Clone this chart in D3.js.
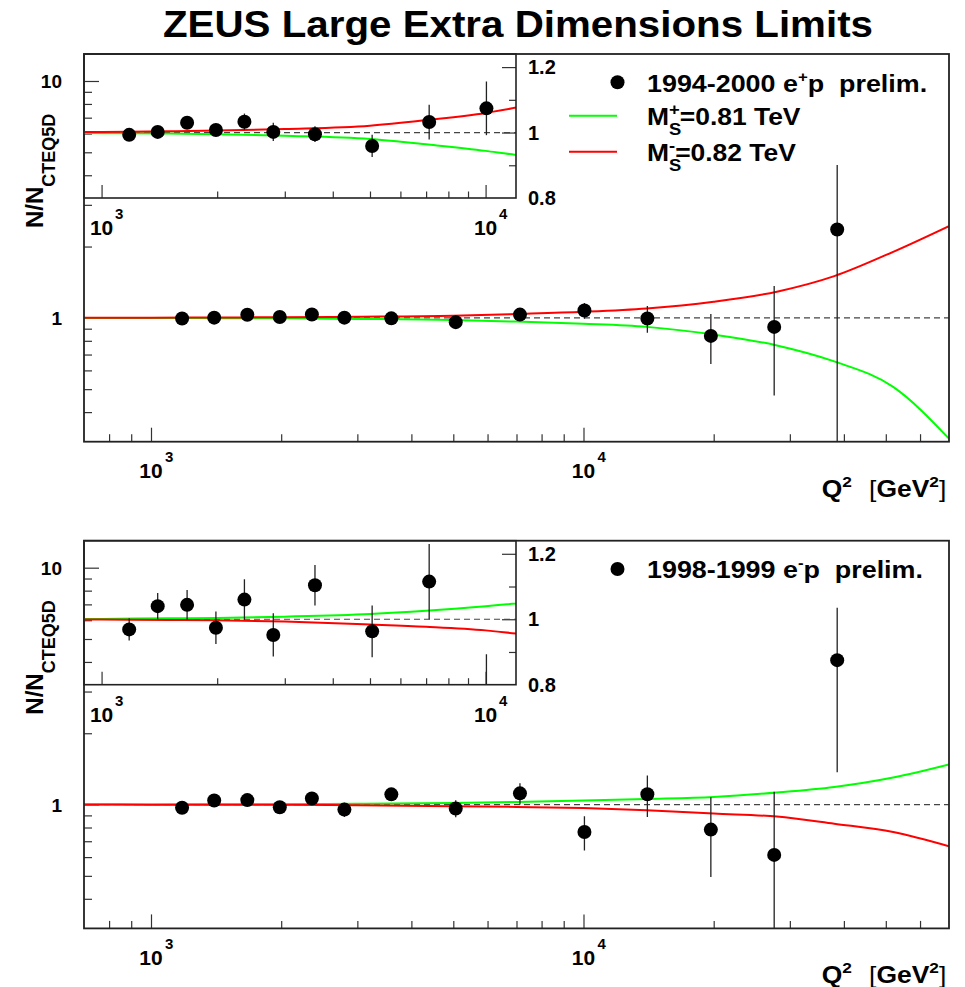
<!DOCTYPE html>
<html>
<head>
<meta charset="utf-8">
<script src="https://cdn.jsdelivr.net/npm/d3@7"></script>
<style>
  body { margin: 0; background: #fff; }
  svg { display: block; font-family: 'Liberation Sans', Arial, Helvetica, sans-serif; font-weight: bold; }
  text { white-space: pre; }
</style>
</head>
<body>
<script>
// Q^2 bin centres (GeV^2)
const q2Bins = [1180, 1400, 1670, 1985, 2355, 2800, 3595, 5065, 7130, 10050, 14050, 19700, 27600, 38600]

// 1994-2000 e+p : N / N_CTEQ5D
const ratioEplus = [0.993, 1.002, 1.030, 1.008, 1.033, 1.002, 0.995, 0.959, 1.032, 1.074, 0.994, 0.839, 0.916, 2.36]
const errEplus = [0.010, 0.011, 0.012, 0.013, 0.025, 0.028, 0.024, 0.034, 0.053, 0.082, 0.128, 0.20, 0.446, 2.06]

// 1998-1999 e-p : N / N_CTEQ5D
const ratioEminus = [0.969, 1.040, 1.044, 0.974, 1.060, 0.952, 1.104, 0.963, 1.115, 0.766, 1.105, 0.784, 0.613, 4.07]
const errEminus = [0.034, 0.040, 0.045, 0.050, 0.062, 0.066, 0.062, 0.079, 0.115, 0.127, 0.22, 0.29, 0.52, 2.7]

// theory curves
const curveQ2 = [700, 1000, 1500, 2000, 3000, 5000, 7000, 10000, 14000, 20000, 28000, 38000, 52000, 70000]
const eplusMplus = [0.999, 0.998, 0.997, 0.995, 0.990, 0.980, 0.964, 0.944, 0.916, 0.850, 0.765, 0.655, 0.511, 0.309]
const eplusMminus = [1.0, 1.002, 1.004, 1.006, 1.011, 1.021, 1.038, 1.060, 1.095, 1.170, 1.290, 1.500, 1.900, 2.44]
const eminusMplus = [1.0, 1.001, 1.003, 1.004, 1.008, 1.016, 1.026, 1.040, 1.056, 1.077, 1.124, 1.186, 1.300, 1.476]
const eminusMminus = [1.0, 0.999, 0.998, 0.997, 0.993, 0.984, 0.977, 0.966, 0.946, 0.916, 0.890, 0.830, 0.766, 0.667]

const title = 'ZEUS Large Extra Dimensions Limits'
const dataLabels = [['1994-2000 e', '+', 'p  prelim.'], ['1998-1999 e', '-', 'p  prelim.']]
const modelLabels = [['+', '=0.81 TeV'], ['-', '=0.82 TeV']]

const GREEN = '#00ff00'
const RED = '#ff0000'
const INK = '#222'

const svg = d3.select('body').append('svg').attr('width', 965).attr('height', 987)

// text with simple super/subscripts
function rich(g, x, y, size, pieces, opts = {}) {
  const t = g.append('text')
    .attr('transform', `translate(${x},${y}) scale(${opts.sx || 1},1)` + (opts.rotate ? ` rotate(${opts.rotate})` : ''))
    .attr('font-size', size)
    .attr('text-anchor', opts.anchor || 'start')
    .attr('fill', '#000')
  let cur = 0
  pieces.forEach(p => {
    if (typeof p === 'string') p = {t: p}
    const off = p.dy || 0
    const s = t.append('tspan').text(p.t).attr('dy', off - cur)
    if (p.size) s.attr('font-size', p.size)
    if (p.dx) s.attr('dx', p.dx)
    if (p.weight) s.attr('font-weight', p.weight)
    cur = off
  })
  return t
}

svg.append('text')
  .attr('x', 518).attr('y', 37)
  .attr('text-anchor', 'middle')
  .attr('font-size', 37)
  .attr('textLength', 710).attr('lengthAdjust', 'spacingAndGlyphs')
  .text(title)

function drawPanel(top, values, errors, greenCurve, redCurve, idx) {
  const left = 84, right = 949, height = 387.7
  const insetRight = 516, insetHeight = 144
  const bottom = top + height, insetBottom = top + insetHeight

  const x = d3.scaleLog().domain([700, 70000]).range([left, right])
  const y = d3.scaleLog().domain([0.3, 13]).range([bottom, top])
  const xi = d3.scaleLog().domain([900, 12000]).range([left, insetRight])
  const yi = d3.scaleLinear().domain([0.8, 1.24]).range([insetBottom, top])

  const g = svg.append('g')
  const clipId = 'clip-main-' + idx, clipInset = 'clip-inset-' + idx
  const defs = svg.append('defs')
  defs.append('clipPath').attr('id', clipId).append('rect')
    .attr('x', left).attr('y', top).attr('width', right - left).attr('height', height)
  defs.append('clipPath').attr('id', clipInset).append('rect')
    .attr('x', left).attr('y', top).attr('width', insetRight - left).attr('height', insetHeight)

  const isDecade = v => Math.abs(Math.log10(v) - Math.round(Math.log10(v))) < 1e-6

  // ---- main axes ----
  const xt = x.ticks().filter(v => v > 700 && v < 70000)
  const yt = y.ticks().filter(v => v > 0.3 && v < 13)
  const tickStyle = a => {
    a.select('.domain').remove()
    a.selectAll('line').attr('stroke', '#333').attr('stroke-width', 1.2)
  }
  g.append('g').attr('transform', `translate(0,${bottom})`)
    .call(d3.axisBottom(x).tickValues(xt.filter(isDecade)).tickSize(-14).tickFormat(''))
    .call(tickStyle)
  g.append('g').attr('transform', `translate(0,${bottom})`)
    .call(d3.axisBottom(x).tickValues(xt.filter(v => !isDecade(v))).tickSize(-7.5).tickFormat(''))
    .call(tickStyle)
  g.append('g').attr('transform', `translate(${left},0)`)
    .call(d3.axisLeft(y).tickValues(yt.filter(isDecade)).tickSize(-15).tickFormat(''))
    .call(tickStyle)
  g.append('g').attr('transform', `translate(${left},0)`)
    .call(d3.axisLeft(y).tickValues(yt.filter(v => !isDecade(v))).tickSize(-8).tickFormat(''))
    .call(tickStyle)

  yt.filter(isDecade).forEach(v => {
    g.append('text').attr('x', 62).attr('y', y(v) + 7).attr('text-anchor', 'end')
      .attr('font-size', 19).text(d3.format('d')(v))
  })
  xt.filter(isDecade).forEach(v => {
    g.append('text').attr('x', x(v)).attr('y', bottom + 36.5).attr('text-anchor', 'middle')
      .attr('font-size', 21).text('10')
    g.append('text').attr('x', x(v) + 14).attr('y', bottom + 20.5)
      .attr('font-size', 15).text(Math.round(Math.log10(v)))
  })

  // axis titles
  rich(g, 821.7, bottom + 55, 23, ['Q', {t: '2', dy: -10, size: 15}, {t: '[', dx: 15, weight: 'normal'}, 'GeV', {t: '2', dy: -10, size: 15}, {t: ']', weight: 'normal'}], {sx: 1.15})
  rich(g, 43, top + 174, 24, ['N/N', {t: 'CTEQ5D', dy: 12, size: 18}], {rotate: -90})

  // ---- main content ----
  const mc = g.append('g').attr('clip-path', `url(#${clipId})`)
  mc.append('line').attr('x1', left).attr('x2', right).attr('y1', y(1)).attr('y2', y(1))
    .attr('stroke', '#444').attr('stroke-width', 1.2).attr('stroke-dasharray', '6,4')
  const line = d3.line().x(d => x(d[0])).y(d => y(d[1])).curve(d3.curveMonotoneX)
  mc.append('path').datum(d3.zip(curveQ2, greenCurve)).attr('d', line)
    .attr('fill', 'none').attr('stroke', GREEN).attr('stroke-width', 2)
  mc.append('path').datum(d3.zip(curveQ2, redCurve)).attr('d', line)
    .attr('fill', 'none').attr('stroke', RED).attr('stroke-width', 2)
  const pts = d3.zip(q2Bins, values, errors)
  mc.selectAll('.err').data(pts).enter().append('line')
    .attr('x1', d => x(d[0])).attr('x2', d => x(d[0]))
    .attr('y1', d => y(Math.max(d[1] - d[2], 0.01))).attr('y2', d => y(d[1] + d[2]))
    .attr('stroke', '#222').attr('stroke-width', 1.3)
  mc.selectAll('.dot').data(pts).enter().append('circle')
    .attr('cx', d => x(d[0])).attr('cy', d => y(d[1])).attr('r', 7).attr('fill', '#000')

  g.append('rect').attr('x', left).attr('y', top).attr('width', right - left).attr('height', height)
    .attr('fill', 'none').attr('stroke', INK).attr('stroke-width', 1.8)

  // ---- inset ----
  const ig = g.append('g')
  const xit = xi.ticks().filter(v => v > 900 && v < 10500)
  ig.append('g').attr('transform', `translate(0,${insetBottom})`)
    .call(d3.axisBottom(xi).tickValues(xit.filter(isDecade)).tickSize(-13).tickFormat(''))
    .call(tickStyle)
  ig.append('g').attr('transform', `translate(0,${insetBottom})`)
    .call(d3.axisBottom(xi).tickValues(xit.filter(v => !isDecade(v))).tickSize(-6.5).tickFormat(''))
    .call(tickStyle)
  const yit = yi.ticks(5).filter(v => v > 0.8 && v < 1.24)
  const yMajor = v => Math.round(v * 10) % 2 === 0
  ig.append('g').attr('transform', `translate(${insetRight},0)`)
    .call(d3.axisRight(yi).tickValues(yit.filter(yMajor)).tickSize(-14).tickFormat(''))
    .call(tickStyle)
  ig.append('g').attr('transform', `translate(${insetRight},0)`)
    .call(d3.axisRight(yi).tickValues(yit.filter(v => !yMajor(v))).tickSize(-7).tickFormat(''))
    .call(tickStyle)
  yi.ticks(5).filter(yMajor).forEach(v => {
    ig.append('text').attr('x', 528).attr('y', yi(v) + 7).attr('font-size', 20)
      .text(d3.format('~g')(v))
  })
  xit.filter(isDecade).forEach(v => {
    ig.append('text').attr('x', xi(v)).attr('y', insetBottom + 37).attr('text-anchor', 'middle')
      .attr('font-size', 21).text('10')
    ig.append('text').attr('x', xi(v) + 13.5).attr('y', insetBottom + 21)
      .attr('font-size', 15).text(Math.round(Math.log10(v)))
  })

  const ic = ig.append('g').attr('clip-path', `url(#${clipInset})`)
  ic.append('line').attr('x1', left).attr('x2', insetRight).attr('y1', yi(1)).attr('y2', yi(1))
    .attr('stroke', '#444').attr('stroke-width', 1.2).attr('stroke-dasharray', '6,4')
  const iline = d3.line().x(d => xi(d[0])).y(d => yi(d[1])).curve(d3.curveMonotoneX)
  ic.append('path').datum(d3.zip(curveQ2, greenCurve)).attr('d', iline)
    .attr('fill', 'none').attr('stroke', GREEN).attr('stroke-width', 2)
  ic.append('path').datum(d3.zip(curveQ2, redCurve)).attr('d', iline)
    .attr('fill', 'none').attr('stroke', RED).attr('stroke-width', 2)
  const ipts = pts.filter(d => d[0] < 12000)
  ic.selectAll('.err').data(ipts).enter().append('line')
    .attr('x1', d => xi(d[0])).attr('x2', d => xi(d[0]))
    .attr('y1', d => yi(d[1] - d[2])).attr('y2', d => yi(d[1] + d[2]))
    .attr('stroke', '#222').attr('stroke-width', 1.3)
  ic.selectAll('.dot').data(ipts).enter().append('circle')
    .attr('cx', d => xi(d[0])).attr('cy', d => yi(d[1])).attr('r', 7).attr('fill', '#000')

  ig.append('rect').attr('x', left).attr('y', top).attr('width', insetRight - left).attr('height', insetHeight)
    .attr('fill', 'none').attr('stroke', INK).attr('stroke-width', 1.6)

  // ---- legend ----
  const lab = dataLabels[idx]
  g.append('circle').attr('cx', 617.5).attr('cy', top + 28.3).attr('r', 7).attr('fill', '#000')
  rich(g, 647, top + 37.5, 24, [lab[0], {t: lab[1], dy: -10, size: 15}, {t: lab[2], dy: 0}], {sx: 1.12})
}

drawPanel(54, ratioEplus, errEplus, eplusMplus, eplusMminus, 0)
drawPanel(540.7, ratioEminus, errEminus, eminusMplus, eminusMminus, 1)

// model entries (top panel only)
const legendColors = [GREEN, RED]
const legendY = [115.7, 151.7]
modelLabels.forEach((m, i) => {
  const yy = legendY[i]
  svg.append('line').attr('x1', 569).attr('x2', 617).attr('y1', yy).attr('y2', yy)
    .attr('stroke', legendColors[i]).attr('stroke-width', 2)
  rich(svg, 647, yy + 9.5, 23, ['M', {t: 'S', dy: 10, size: 16}, {t: m[0], dy: -10, size: 16, dx: -10.7}, {t: m[1], dy: 0}], {sx: 1.15})
})
</script>
</body>
</html>
